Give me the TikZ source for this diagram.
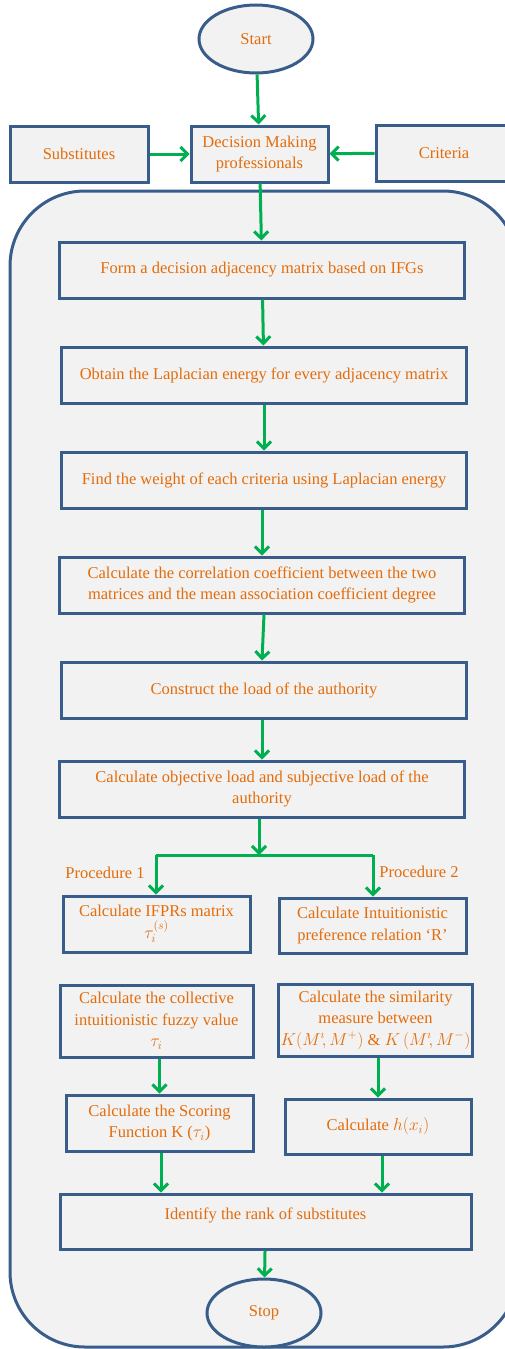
\documentclass[tikz,border=0pt]{standalone}
\usepackage{fontspec}
\setmainfont{Liberation Serif}
\usepackage{amsmath}
\usepackage{tikz}
\usetikzlibrary{shapes.geometric,arrows.meta}

\definecolor{boxblue}{HTML}{385D8A}
\definecolor{boxgray}{HTML}{F2F2F2}
\definecolor{txtorange}{HTML}{E46C0A}
\definecolor{arrgreen}{HTML}{00B050}

\begin{document}
\begin{tikzpicture}[x=1pt,y=-1pt]
\tikzstyle{every node}=[text=txtorange,font=\fontsize{16.5}{21.5}\selectfont,align=center];
\tikzstyle{stepbox}=[draw=boxblue,fill=boxgray,line width=3pt,shape=rectangle,minimum height=56pt,inner sep=2pt];
\tikzstyle{endpoint}=[draw=boxblue,fill=boxgray,line width=3pt,shape=ellipse,minimum width=114pt,minimum height=68pt];
\tikzstyle{arr}=[draw=arrgreen,line width=3pt,-{Straight Barb[length=7pt,width=14pt]}];
\useasboundingbox (0,0) rectangle (504,1349);
% frame round the steps
\draw[draw=boxblue,fill=boxgray,line width=3pt,rounded corners=75pt] (10,191) rectangle (518,1347);

\node[endpoint] (start) at (256,39) {Start};
\node[stepbox,minimum width=137pt] (dm) at (259.5,154) {Decision Making\\professionals};
\node[stepbox,minimum width=138pt] (subs) at (79,154) {Substitutes};
\node[stepbox,minimum width=136pt] (crit) at (444,153) {Criteria};

\node[stepbox,minimum width=405pt] (b1) at (262,270) {Form a decision adjacency matrix based on IFGs};
\node[stepbox,minimum width=405pt] (b2) at (264,375) {Obtain the Laplacian energy for every adjacency matrix};
\node[stepbox,minimum width=405pt] (b3) at (264,480) {Find the weight of each criteria using Laplacian energy};
\node[stepbox,minimum width=405pt] (b4) at (262,585) {Calculate the correlation coefficient between the two\\matrices and the mean association coefficient degree};
\node[stepbox,minimum width=405pt] (b5) at (264,690) {Construct the load of the authority};
\node[stepbox,minimum width=405pt] (b6) at (262,789) {Calculate objective load and subjective load of the\\authority};

\coordinate (fork) at (259,855);
\coordinate (forkl) at (156,855);
\coordinate (forkr) at (373,855);
\node (proc1) at (105,873) {Procedure 1};
\node (proc2) at (419,872) {Procedure 2};

\node[stepbox,minimum width=187pt] (p1a) at (156.5,924) {Calculate IFPRs matrix\\$\tau_i^{(s)}$};
\node[stepbox,minimum width=187pt,minimum height=55pt] (p2a) at (372.5,925.5) {Calculate Intuitionistic\\preference relation `R'};
\node[stepbox,minimum width=193pt,minimum height=72pt] (p1b) at (156.5,1021) {Calculate the collective\\intuitionistic fuzzy value\\$\tau_i$};
\node[stepbox,minimum width=187pt,minimum height=72pt] (p2b) at (375.5,1020) {Calculate the similarity\\measure between\\$K(M^{\imath}\!,M^{+})$ \& $K\,(M^{\imath}\!,M^{-})$};
\node[stepbox,minimum width=187pt] (p1c) at (159.5,1123) {Calculate the Scoring\\Function K ($\tau_i$)};
\node[stepbox,minimum width=186pt,minimum height=55pt] (p2c) at (378,1126.5) {Calculate $h(x_i)$};
\node[stepbox,minimum width=411pt,minimum height=55pt,text depth=16pt] (rank) at (265.5,1221.5) {Identify the rank of substitutes};
\node[endpoint] (stop) at (264,1313) {Stop};

\draw[arr] (start) -- (dm);
\draw[arr] (subs) -- (dm);
\draw[arr] (crit) -- (dm);
\draw[arr] (dm) -- (b1);
\draw[arr] (b1) -- (b2);
\draw[arr] (b2) -- (b3);
\draw[arr] (b3.south -| b4.north) -- (b4);
\draw[arr] (b4.south -| b5.north) -- (b5.north -| b4.south);
\draw[arr] (b5.south -| b6.north) -- (b6);
\draw[arr] (b6.south -| fork) -- (fork);
\draw[arrgreen,line width=3pt] (forkl) -- (forkr);
\draw[arr] (forkl) -- (p1a.north -| forkl);
\draw[arr] (forkr) -- (p2a.north -| forkr);
\draw[arr] (p1b.south -| p1c) -- (p1c);
\draw[arr] (p2b.south -| p2c) -- (p2c);
\draw[arr] (p1c.south -| 161,0) -- (rank.north -| 161,0);
\draw[arr] (p2c.south -| 382,0) -- (rank.north -| 382,0);
\draw[arr] (rank) -- (stop);
\end{tikzpicture}
\end{document}
